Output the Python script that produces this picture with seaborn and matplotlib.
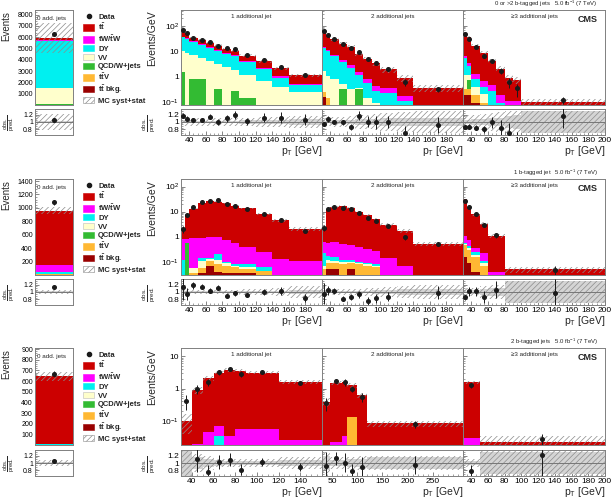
import numpy as np
import pandas as pd
import matplotlib
matplotlib.use("Agg")
import matplotlib.pyplot as plt
from matplotlib.patches import Patch
from matplotlib.lines import Line2D
from matplotlib.ticker import FixedLocator, MultipleLocator, FuncFormatter, NullFormatter, LogLocator
import seaborn as sns

# ---------------- data (Events/GeV for the pT panels, Events for 0 add. jets) -------------
# b0 = 0 or >2 b-tagged jets, b1 = 1 b-tagged jet, b2 = 2 b-tagged jets
# j0 = 0 add. jets, j1/j2/j3 = 1, 2, >=3 additional jets

b0_j0_edges = [0, 1]
b0_j0_data = [6250]
b0_j0_ttbkg = [0]
b0_j0_ttv = [0]
b0_j0_qcd = [100]
b0_j0_vv = [1420]
b0_j0_dy = [4150]
b0_j0_tw = [40]
b0_j0_tt = [200]
b0_j0_syst = [0.22]
b0_j0_stat = [0.03]

b0_j1_edges = [30, 35, 40, 50, 60, 70, 80, 90, 100, 120, 140, 160, 200]
b0_j1_data = [68, 52, 34, 29, 24, 17, 13.5, 12.5, 7.0, 4.6, 2.5, 1.25]
b0_j1_ttbkg = [0, 0, 0, 0, 0, 0, 0, 0, 0, 0, 0, 0]
b0_j1_ttv = [0, 0, 0, 0, 0, 0, 0, 0, 0, 0, 0, 0]
b0_j1_qcd = [1.6, 0, 0.85, 0.85, 0, 0.35, 0, 0.28, 0.15, 0, 0, 0]
b0_j1_vv = [8.9, 9, 6.15, 4.65, 4.2, 2.85, 2.4, 1.62, 1.05, 0.7, 0.4, 0.25]
b0_j1_dy = [25.5, 22, 16, 12.5, 9.8, 7.3, 5.6, 4.6, 2.8, 1.3, 0.55, 0.23]
b0_j1_tw = [2.5, 2.2, 1.6, 1.4, 1.0, 0.8, 0.6, 0.5, 0.35, 0.22, 0.12, 0.06]
b0_j1_tt = [19.5, 14.5, 7.8, 8, 6, 5.7, 3.7, 3.6, 2.55, 1.9, 1.16, 0.64]
b0_j1_syst = [0.1, 0.1, 0.1, 0.1, 0.1, 0.11, 0.11, 0.12, 0.12, 0.13, 0.14, 0.15]
b0_j1_stat = [0.03, 0.03, 0.03, 0.03, 0.03, 0.04, 0.04, 0.04, 0.05, 0.05, 0.06, 0.07]

b0_j2_edges = [30, 35, 40, 50, 60, 70, 80, 90, 100, 120, 140, 200]
b0_j2_data = [63, 44, 31, 20, 13.4, 9.4, 5.2, 3.5, 2.0, 0.63, 0.33]
b0_j2_ttbkg = [0.16, 0.08, 0, 0, 0, 0, 0, 0, 0, 0, 0]
b0_j2_ttv = [0.1, 0.07, 0, 0, 0, 0, 0, 0, 0, 0, 0]
b0_j2_qcd = [0, 0, 0, 0.33, 0, 0.33, 0, 0, 0, 0, 0]
b0_j2_vv = [1.44, 0.95, 0.8, 0.2, 0.35, 0.05, 0.15, 0.1, 0.08, 0.05, 0.03]
b0_j2_dy = [11.7, 8.9, 5.6, 3.17, 1.95, 0.82, 0.44, 0.18, 0.16, 0.06, 0.02]
b0_j2_tw = [1.5, 1.3, 1.0, 0.8, 0.55, 0.35, 0.25, 0.16, 0.12, 0.07, 0.03]
b0_j2_tt = [51.1, 29.4, 23.3, 15.7, 12.75, 6.45, 4.31, 3.1, 1.62, 0.73, 0.28]
b0_j2_syst = [0.12, 0.12, 0.13, 0.14, 0.16, 0.18, 0.2, 0.22, 0.25, 0.28, 0.3]
b0_j2_stat = [0.04, 0.04, 0.05, 0.05, 0.06, 0.07, 0.08, 0.09, 0.1, 0.12, 0.12]

b0_j3_edges = [30, 35, 40, 50, 60, 70, 80, 90, 100, 200]
b0_j3_data = [48, 31, 14.3, 6.8, 4.1, 1.78, 0.63, 0.36, 0.126]
b0_j3_ttbkg = [0.2, 0.2, 0.1, 0.05, 0, 0, 0, 0, 0]
b0_j3_ttv = [0.15, 0.15, 0.1, 0.05, 0, 0, 0, 0, 0]
b0_j3_qcd = [0, 0.4, 0, 0, 0, 0, 0, 0, 0]
b0_j3_vv = [0.9, 0.5, 0.2, 0.12, 0.08, 0.02, 0.02, 0.02, 0]
b0_j3_dy = [4.2, 1.4, 0.4, 0.18, 0.2, 0.08, 0.05, 0.05, 0.005]
b0_j3_tw = [1.3, 0.9, 0.5, 0.3, 0.2, 0.1, 0.05, 0.04, 0.005]
b0_j3_tt = [48.25, 32.05, 15.5, 7.8, 3.66, 1.9, 0.78, 0.63, 0.098]
b0_j3_syst = [0.15, 0.18, 0.2, 0.22, 0.25, 0.28, 0.3, 0.3, 0.3]
b0_j3_stat = [0.05, 0.06, 0.07, 0.08, 0.1, 0.12, 0.15, 0.2, 0.3]

b1_j0_edges = [0, 1]
b1_j0_data = [1080]
b1_j0_ttbkg = [5]
b1_j0_ttv = [3]
b1_j0_qcd = [2]
b1_j0_vv = [10]
b1_j0_dy = [25]
b1_j0_tw = [105]
b1_j0_tt = [810]
b1_j0_syst = [0.05]
b1_j0_stat = [0.02]

b1_j1_edges = [30, 35, 40, 50, 60, 70, 80, 90, 100, 120, 140, 160, 200]
b1_j1_data = [2.1, 7.2, 15.4, 25, 26.5, 28, 19.5, 16.8, 12.4, 7.9, 4.7, 1.73]
b1_j1_ttbkg = [0, 0, 0, 0.035, 0.07, 0.04, 0.035, 0.035, 0.035, 0.03, 0, 0]
b1_j1_ttv = [0, 0, 0.035, 0.02, 0.035, 0.04, 0.035, 0.025, 0.015, 0.015, 0, 0]
b1_j1_qcd = [0, 0.55, 0, 0, 0, 0, 0, 0, 0, 0, 0, 0]
b1_j1_vv = [0.01, 0.01, 0.02, 0.05, 0.03, 0.04, 0.02, 0.01, 0.01, 0, 0, 0]
b1_j1_dy = [0.11, 0.02, 0, 0.04, 0.01, 0.09, 0.01, 0.01, 0.02, 0.02, 0, 0]
b1_j1_tw = [0.7, 0.25, 0.8, 0.75, 0.8, 0.8, 0.65, 0.5, 0.32, 0.19, 0.13, 0.11]
b1_j1_tt = [1.05, 6.83, 12.2, 21.0, 24.55, 24.0, 20.95, 16.9, 13.1, 7.65, 4.47, 1.95]
b1_j1_syst = [0.15, 0.08, 0.06, 0.05, 0.05, 0.05, 0.05, 0.06, 0.07, 0.09, 0.12, 0.15]
b1_j1_stat = [0.06, 0.03, 0.02, 0.02, 0.02, 0.02, 0.02, 0.02, 0.03, 0.03, 0.04, 0.05]

b1_j2_edges = [30, 35, 40, 50, 60, 70, 80, 90, 100, 120, 140, 200]
b1_j2_data = [2.3, 12.4, 15.8, 13.6, 12.4, 9.2, 5.8, 4.3, 2.6, 1.0, 0.51]
b1_j2_ttbkg = [0.03, 0.05, 0.05, 0.03, 0.05, 0.03, 0.02, 0.02, 0, 0, 0]
b1_j2_ttv = [0.02, 0.04, 0.04, 0.05, 0.04, 0.05, 0.05, 0.04, 0.01, 0, 0]
b1_j2_qcd = [0, 0, 0, 0, 0, 0, 0, 0, 0, 0, 0]
b1_j2_vv = [0.02, 0.03, 0.02, 0.02, 0.01, 0.01, 0.01, 0.01, 0, 0, 0]
b1_j2_dy = [0.15, 0.05, 0.04, 0.02, 0.02, 0.01, 0.01, 0.01, 0.01, 0, 0]
b1_j2_tw = [0.4, 0.4, 0.45, 0.4, 0.35, 0.3, 0.25, 0.18, 0.12, 0.07, 0.02]
b1_j2_tt = [1.78, 11.33, 14.9, 16.08, 13.93, 9.4, 7.26, 4.94, 2.86, 1.66, 0.50]
b1_j2_syst = [0.15, 0.08, 0.07, 0.07, 0.08, 0.09, 0.1, 0.12, 0.14, 0.17, 0.2]
b1_j2_stat = [0.06, 0.03, 0.03, 0.03, 0.03, 0.04, 0.04, 0.05, 0.06, 0.07, 0.08]

b1_j3_edges = [30, 35, 40, 50, 60, 80, 200]
b1_j3_data = [26.5, 15.4, 7.9, 2.9, 1.17, 0.048]
b1_j3_ttbkg = [0.15, 0.09, 0.04, 0.02, 0, 0]
b1_j3_ttv = [0.3, 0.2, 0.12, 0.05, 0.005, 0]
b1_j3_qcd = [0, 0, 0, 0, 0, 0]
b1_j3_vv = [0.05, 0.08, 0.03, 0.02, 0, 0]
b1_j3_dy = [0.05, 0.05, 0.06, 0.02, 0, 0]
b1_j3_tw = [0.5, 0.3, 0.12, 0.12, 0.035, 0.002]
b1_j3_tt = [29.95, 14.38, 7.38, 3.14, 1.06, 0.048]
b1_j3_syst = [0.1, 0.12, 0.12, 0.15, 0.2, 0.3]
b1_j3_stat = [0.04, 0.05, 0.06, 0.08, 0.12, 0.3]

b2_j0_edges = [0, 1]
b2_j0_data = [670]
b2_j0_ttbkg = [1]
b2_j0_ttv = [1]
b2_j0_qcd = [0]
b2_j0_vv = [1]
b2_j0_dy = [2]
b2_j0_tw = [8]
b2_j0_tt = [630]
b2_j0_syst = [0.07]
b2_j0_stat = [0.03]

b2_j1_edges = [30, 40, 50, 60, 70, 80, 90, 120, 160]
b2_j1_data = [0.42, 1.0, 1.58, 3.2, 4.1, 2.9, 3.2, 1.45]
b2_j1_ttbkg = [0, 0, 0, 0, 0, 0, 0, 0]
b2_j1_ttv = [0, 0, 0, 0, 0, 0, 0, 0]
b2_j1_qcd = [0, 0, 0, 0, 0, 0, 0, 0]
b2_j1_vv = [0, 0, 0, 0, 0, 0, 0, 0]
b2_j1_dy = [0, 0, 0, 0.035, 0, 0, 0, 0]
b2_j1_tw = [0, 0.02, 0.045, 0.035, 0.035, 0.055, 0.055, 0.025]
b2_j1_tt = [0.1, 0.89, 2.035, 3.03, 3.725, 3.485, 3.085, 1.605]
b2_j1_syst = [0.6, 0.25, 0.2, 0.12, 0.12, 0.1, 0.1, 0.15]
b2_j1_stat = [0.5, 0.15, 0.1, 0.07, 0.06, 0.06, 0.05, 0.08]

b2_j2_edges = [30, 45, 70, 80, 100, 120, 310]
b2_j2_data = [0.35, 1.7, 1.63, 1.0, 0.56, 0.079]
b2_j2_ttbkg = [0, 0, 0, 0, 0, 0]
b2_j2_ttv = [0, 0, 0, 0.13, 0, 0]
b2_j2_qcd = [0, 0, 0, 0, 0, 0]
b2_j2_vv = [0, 0, 0, 0, 0, 0]
b2_j2_dy = [0, 0, 0, 0, 0, 0]
b2_j2_tw = [0, 0.022, 0.035, 0, 0, 0]
b2_j2_tt = [0.385, 1.478, 1.575, 1.14, 0.62, 0.084]
b2_j2_syst = [0.3, 0.15, 0.15, 0.15, 0.18, 0.2]
b2_j2_stat = [0.2, 0.08, 0.08, 0.1, 0.12, 0.15]

b2_j3_edges = [30, 50, 200]
b2_j3_data = [1.26, 0.027]
b2_j3_ttbkg = [0, 0]
b2_j3_ttv = [0, 0]
b2_j3_qcd = [0, 0]
b2_j3_vv = [0, 0]
b2_j3_dy = [0, 0]
b2_j3_tw = [0.03, 0.0005]
b2_j3_tt = [1.55, 0.0215]
b2_j3_syst = [0.12, 0.5]
b2_j3_stat = [0.05, 0.3]

categories = ["0 or >2 b-tagged jets", "1 b-tagged jet", "2 b-tagged jets"]
jet_titles = ["1 additional jet", "2 additional jets", "\u22653 additional jets"]

# seaborn stacks the first hue level on top
procs = ["tt", "tw", "dy", "vv", "qcd", "ttv", "ttbkg"]
proc_labels = {
    "tt": r"$\mathbf{t\bar{t}}$",
    "tw": r"$\mathbf{tW/\bar{t}W}$",
    "dy": "DY",
    "vv": "VV",
    "qcd": "QCD/W+jets",
    "ttv": r"$\mathbf{t\bar{t}V}$",
    "ttbkg": r"$\mathbf{t\bar{t}}$ bkg.",
}
palette = {"ttbkg": "#990000", "ttv": "#ffb833", "qcd": "#33bb33", "vv": "#ffffcc",
           "dy": "#00f0f0", "tw": "#ff00ff", "tt": "#cc0000"}

sns.set_theme(style="ticks")
plt.rcParams["font.family"] = ["Liberation Sans", "DejaVu Sans"]
plt.rcParams["mathtext.fontset"] = "custom"
plt.rcParams["mathtext.rm"] = "Liberation Sans"
plt.rcParams["mathtext.it"] = "Liberation Sans:italic"
plt.rcParams["mathtext.bf"] = "Liberation Sans:bold"
plt.rcParams["hatch.linewidth"] = 0.5
plt.rcParams["axes.linewidth"] = 0.7
plt.rcParams["axes.edgecolor"] = "#808080"

HATCH = "//////"
HCOL = "#8c8c8c"
W, H = 614, 500


def box(x0, y0, x1, y1):
    return [x0 / W, 1 - y1 / H, (x1 - x0) / W, (y1 - y0) / H]


def get(p, k):
    return np.asarray(globals()[f"{p}_{k}"], dtype=float)


def draw(ax, rax, p):
    e = get(p, "edges")
    w = np.diff(e)
    c = 0.5 * (e[1:] + e[:-1])
    rows = [(x, v, q) for q in procs for x, v in zip(c, get(p, q))]
    df = pd.DataFrame(rows, columns=["pt", "w", "proc"])
    sns.histplot(df, x="pt", weights="w", hue="proc", hue_order=procs, bins=e.tolist(),
                 multiple="stack", element="step", fill=True, alpha=1, linewidth=0,
                 palette=palette, legend=False, ax=ax)
    tot = sum(get(p, q) for q in procs)
    syst = get(p, "syst")
    stat = get(p, "stat")
    ax.stairs(tot * (1 + syst), e, baseline=tot * (1 - syst), fill=True,
              facecolor="none", edgecolor=HCOL, hatch=HATCH, linewidth=0, zorder=3)
    d = get(p, "data")
    err = np.sqrt(d * w) / w
    ax.errorbar(c, d, yerr=err, fmt="o", color="k", ms=2.6, elinewidth=0.7,
                capsize=0, zorder=5)
    ax.set_xlabel("")
    ax.set_ylabel("")

    rax.stairs(1 + stat, e, baseline=1 - stat, fill=True, color="#d4d4d4", linewidth=0)
    rax.stairs(1 + syst, e, baseline=1 - syst, fill=True, facecolor="none",
               edgecolor=HCOL, hatch=HATCH, linewidth=0)
    rax.axhline(1, color="#777777", lw=0.7)
    rax.errorbar(c, d / tot, yerr=err / tot, fmt="o", color="k", ms=2.6,
                 elinewidth=0.7, capsize=0, zorder=5)
    rax.set_ylim(0.65, 1.35)
    rax.set_xlim(e[0], e[-1])
    ax.set_xlim(e[0], e[-1])
    rax.yaxis.set_major_locator(FixedLocator([0.8, 1.0, 1.2]))
    rax.yaxis.set_minor_locator(MultipleLocator(0.05))
    rax.yaxis.set_major_formatter(FuncFormatter(lambda v, _: "1" if abs(v - 1) < 1e-6 else f"{v:.1f}"))


def logfmt(v, _):
    if abs(v - 1) < 1e-9:
        return "1"
    if abs(v - 10) < 1e-9:
        return "10"
    return r"$10^{%d}$" % round(np.log10(v))


def style_ticks(ax, labelsize):
    ax.tick_params(which="both", direction="in", colors="#555555", labelcolor="black",
                   labelsize=labelsize, pad=1.5)
    ax.tick_params(which="major", length=3, width=0.5)
    ax.tick_params(which="minor", length=1.6, width=0.4)


fig = plt.figure(figsize=(6.14, 5.0), dpi=100)

rowpix = [(10, 105, 109, 135), (179, 275, 279, 305), (348, 445, 450, 476)]
colpix = [(181, 322), (322, 463), (463, 605)]
main_ylim = [(0.08, 420), (0.03, 200), (0.018, 18)]
left_ylim = [(0, 8400), (0, 1430), (0, 910)]
left_step = [1000, 200, 100]
left_top = [8000, 1400, 900]
rows = ["b0", "b1", "b2"]
frac = r"$\frac{\mathrm{obs.}}{\mathrm{pred.}}$"
ptlabel = r"p$_\mathrm{T}$ [GeV]"

for r, b in enumerate(rows):
    mt, mb, rt, rb = rowpix[r]

    # 0 additional jets panel
    axl = fig.add_axes(box(35, mt, 73, mb))
    axlr = fig.add_axes(box(35, rt, 73, rb))
    draw(axl, axlr, f"{b}_j0")
    axl.set_ylim(*left_ylim[r])
    axl.yaxis.set_major_locator(FixedLocator(list(range(left_step[r], left_top[r] + 1, left_step[r]))))
    axl.yaxis.set_minor_locator(MultipleLocator(left_step[r] / 5))
    for a in (axl, axlr):
        a.set_xticks([])
        style_ticks(a, 5)
    axl.set_ylabel("Events", fontsize=7)
    axl.yaxis.set_label_coords(-0.62, 0.83)
    axlr.set_ylabel(frac, fontsize=6)
    axlr.yaxis.set_label_coords(-0.47, 0.45)
    axl.text(0.05, 0.94, "0 add. jets", transform=axl.transAxes, fontsize=4.5,
             ha="left", va="top")

    handles = [Line2D([], [], marker="o", color="k", ls="none", ms=3)]
    labels = ["Data"]
    for q in procs:
        handles.append(Patch(facecolor=palette[q], edgecolor="#bbbbbb" if q == "vv" else palette[q], lw=0.4))
        labels.append(proc_labels[q])
    handles.append(Patch(facecolor="white", edgecolor=HCOL, hatch=HATCH, lw=0.4))
    labels.append("MC syst+stat")
    axl.legend(handles, labels, loc="upper left", bbox_to_anchor=(79 / W, 1 - (mt - 1) / H),
               bbox_transform=fig.transFigure, frameon=False,
               prop={"weight": "bold", "size": 5.5}, labelspacing=0.12,
               handlelength=1.5, handleheight=0.95, handletextpad=0.5, borderpad=0)

    # pT panels
    for j in range(3):
        x0, x1 = colpix[j]
        p = f"{b}_j{j + 1}"
        ax = fig.add_axes(box(x0, mt, x1, mb))
        rax = fig.add_axes(box(x0, rt, x1, rb))
        draw(ax, rax, p)
        ax.set_yscale("log")
        ax.set_ylim(*main_ylim[r])
        ax.yaxis.set_major_locator(LogLocator(base=10))
        ax.yaxis.set_minor_locator(LogLocator(base=10, subs=np.arange(2, 10)))
        ax.yaxis.set_minor_formatter(NullFormatter())
        ax.yaxis.set_major_formatter(FuncFormatter(logfmt))
        if p == "b2_j2":
            ticks, minor = [50, 100, 150, 200, 250], 10
        elif p == "b2_j1":
            ticks, minor = [40, 60, 80, 100, 120, 140], 5
        elif j == 2:
            ticks, minor = list(range(40, 201, 20)), 5
        else:
            ticks, minor = list(range(40, 181, 20)), 5
        for a in (ax, rax):
            a.xaxis.set_major_locator(FixedLocator(ticks))
            a.xaxis.set_minor_locator(MultipleLocator(minor))
            style_ticks(a, 6)
        ax.tick_params(labelbottom=False)
        if j > 0:
            ax.tick_params(labelleft=False)
            rax.tick_params(labelleft=False)
        else:
            ax.set_ylabel("Events/GeV", fontsize=7.5)
            ax.yaxis.set_label_coords(-0.17, 0.7)
            rax.set_ylabel(frac, fontsize=6.5)
            rax.yaxis.set_label_coords(-0.165, 0.45)
        rax.set_xlabel(ptlabel, fontsize=7.5, loc="right", labelpad=0)
        ax.text(0.5, 0.93, jet_titles[j], transform=ax.transAxes, fontsize=4.5,
                ha="center", va="center")
        if j == 2:
            ax.text(0.95, 0.9, "CMS", transform=ax.transAxes, fontsize=6.5,
                    fontweight="bold", ha="right", va="center")

    fig.text(598 / W, 1 - (mt - 1) / H,
             categories[r] + "   5.0 fb$^{-1}$ (7 TeV)",
             ha="right", va="bottom", fontsize=4.3)

fig.savefig("out.png", dpi=100)
